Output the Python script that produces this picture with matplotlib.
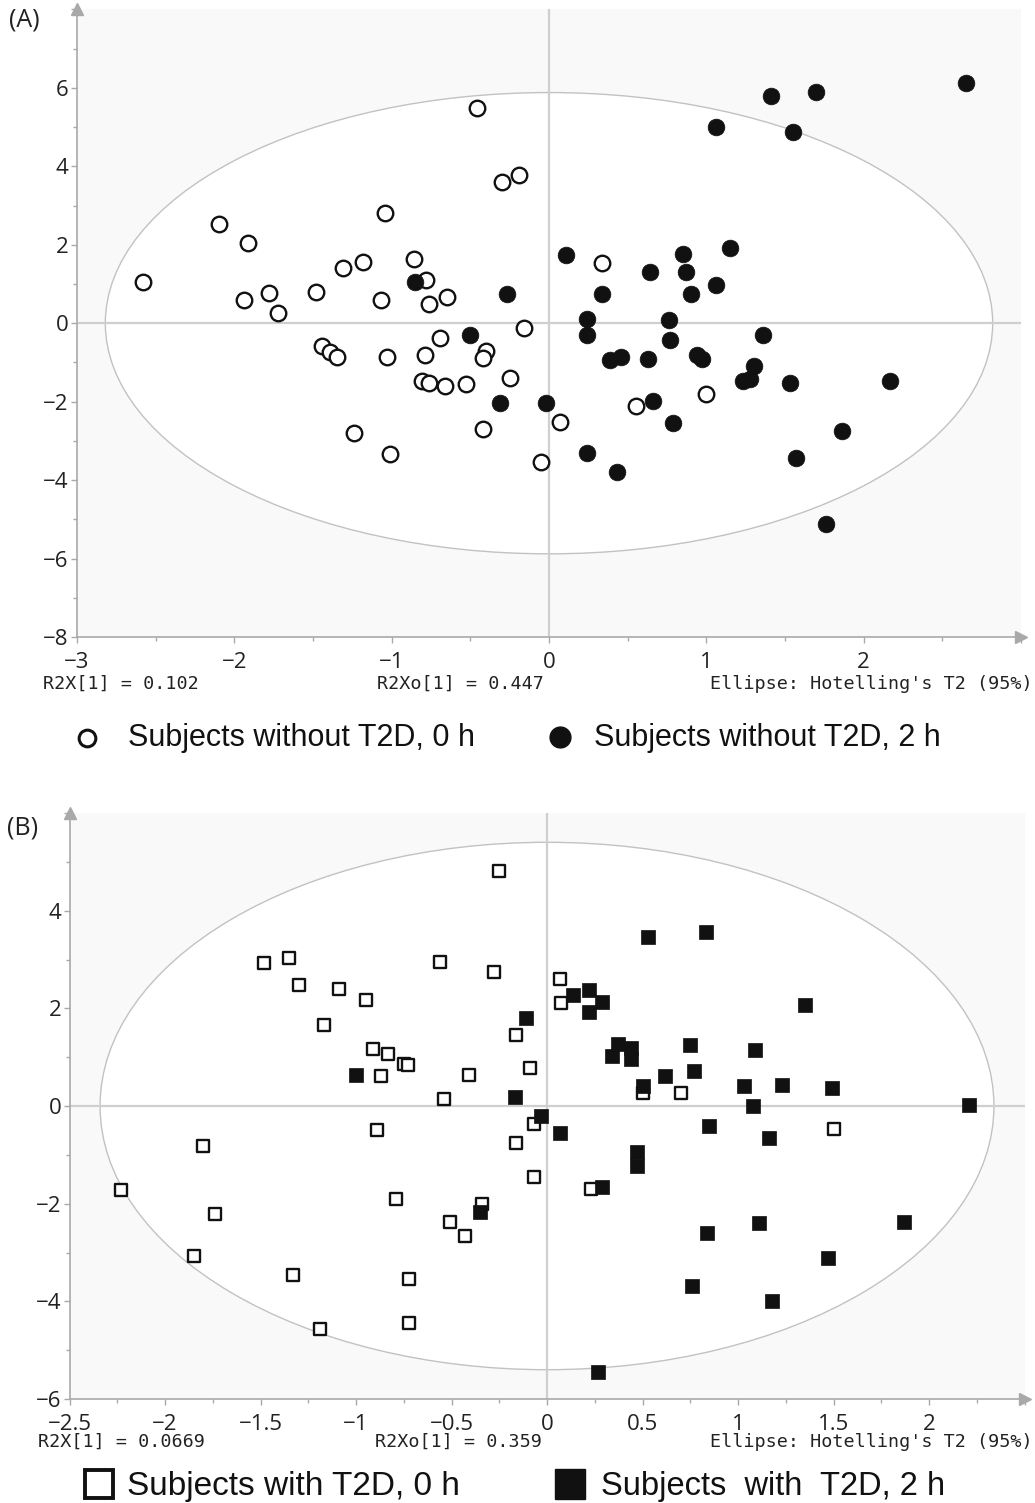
import matplotlib
matplotlib.use('Agg')
import matplotlib.pyplot as plt
from matplotlib.patches import Ellipse
from matplotlib.lines import Line2D
from matplotlib.ticker import MultipleLocator

# ---------------- Panel A data ----------------
a0_x = [-2.58, -2.10, -1.91, -1.94, -1.78, -1.72, -1.48, -1.31, -1.18, -1.07,
        -1.04, -0.86, -0.78, -0.76, -0.65, -0.46, -0.30, -0.19, 0.34, -0.16,
        -1.44, -1.39, -1.35, -1.03, -0.79, -0.69, -0.40, -0.42, -0.81, -0.76,
        -0.66, -0.53, -0.25, -1.24, -1.01, -0.42, -0.05, 0.07, 0.55, 1.00]
a0_y = [1.05, 2.53, 2.05, 0.60, 0.77, 0.26, 0.79, 1.41, 1.57, 0.60,
        2.81, 1.63, 1.11, 0.48, 0.66, 5.48, 3.61, 3.78, 1.53, -0.13,
        -0.59, -0.74, -0.87, -0.87, -0.82, -0.38, -0.71, -0.89, -1.48, -1.53,
        -1.61, -1.56, -1.40, -2.81, -3.34, -2.70, -3.55, -2.53, -2.12, -1.81]
a2_x = [-0.85, -0.27, -0.50, -0.31, -0.02, 0.11, 0.34, 0.24, 0.24, 0.64,
        0.85, 0.87, 0.90, 1.06, 1.15, 0.76, 0.77, 1.36, 1.06, 1.41,
        1.70, 1.55, 2.65, 0.39, 0.46, 0.63, 0.94, 0.97, 1.30, 1.23,
        1.28, 1.53, 2.17, 0.66, 0.79, 0.24, 0.43, 1.86, 1.57, 1.76]
a2_y = [1.05, 0.74, -0.31, -2.04, -2.04, 1.73, 0.74, 0.10, -0.31, 1.30,
        1.76, 1.30, 0.74, 0.97, 1.91, 0.08, -0.43, -0.29, 5.00, 5.79,
        5.89, 4.88, 6.12, -0.94, -0.86, -0.90, -0.82, -0.91, -1.10, -1.48,
        -1.43, -1.52, -1.48, -1.99, -2.55, -3.31, -3.80, -2.74, -3.44, -5.12]

# ---------------- Panel B data ----------------
b0_x = [-1.48, -1.35, -1.30, -1.09, -0.95, -1.17, -0.91, -0.83, -0.75, -0.73,
        -0.87, -0.56, -0.28, -0.25, -0.41, -0.54, -0.16, -0.09, -0.89, -1.80,
        -0.07, -0.16, -2.23, -1.74, -1.85, -1.33, -1.19, -0.79, -0.72, -0.72,
        -0.51, -0.43, -0.34, -0.07, 0.07, 0.075, 0.50, 0.70, 1.50, 0.23]
b0_y = [2.92, 3.04, 2.48, 2.40, 2.18, 1.65, 1.17, 1.06, 0.85, 0.83,
        0.62, 2.95, 2.74, 4.82, 0.64, 0.15, 1.46, 0.77, -0.50, -0.82,
        -0.37, -0.76, -1.72, -2.21, -3.08, -3.46, -4.57, -1.90, -3.54, -4.45,
        -2.38, -2.66, -2.00, -1.45, 2.60, 2.10, 0.26, 0.26, -0.48, -1.70]
b2_x = [-1.00, -0.11, -0.17, -0.03, 0.53, 0.83, 0.136, 0.22, 0.29, 0.22,
        1.35, 0.37, 0.34, 0.44, 0.44, 0.75, 1.09, 0.62, 0.77, 0.50,
        1.03, 1.23, 1.49, 1.08, 2.21, 0.07, 0.85, 1.16, 0.47, 0.47,
        0.29, -0.35, 0.84, 1.11, 1.87, 1.47, 0.76, 1.18, 0.265]
b2_y = [0.64, 1.80, 0.18, -0.20, 3.47, 3.57, 2.27, 2.38, 2.12, 1.92,
        2.06, 1.27, 1.02, 1.18, 0.97, 1.24, 1.15, 0.62, 0.71, 0.40,
        0.41, 0.43, 0.37, 0.01, 0.03, -0.55, -0.40, -0.65, -0.95, -1.22,
        -1.66, -2.17, -2.61, -2.40, -2.37, -3.12, -3.68, -4.00, -5.44]

W, H = 1035, 1503
fig = plt.figure(figsize=(W / 100, H / 100), dpi=100)
fig.patch.set_facecolor('white')

AXC = '#a9a9a9'
TICKFONT = 'Open Sans'
MONO = 'DejaVu Sans Mono'
LEGFONT = 'Liberation Sans'


def style(ax, xlim, ylim, xmaj, xmin, ymaj, ymin, ell):
    ax.set_facecolor('#f9f9f9')
    ax.set_xlim(*xlim)
    ax.set_ylim(*ylim)
    ax.add_patch(Ellipse((0, 0), 2 * ell[0], 2 * ell[1], facecolor='white',
                         edgecolor='#c2c2c2', lw=1.0, zorder=1))
    ax.axhline(0, color='#cfcfcf', lw=1.6, zorder=1.5)
    ax.axvline(0, color='#cfcfcf', lw=1.6, zorder=1.5)
    for s in ['top', 'right']:
        ax.spines[s].set_visible(False)
    for s in ['left', 'bottom']:
        ax.spines[s].set_color(AXC)
        ax.spines[s].set_linewidth(1.2)
    ax.xaxis.set_major_locator(MultipleLocator(xmaj))
    ax.xaxis.set_minor_locator(MultipleLocator(xmin))
    ax.yaxis.set_major_locator(MultipleLocator(ymaj))
    ax.yaxis.set_minor_locator(MultipleLocator(ymin))
    ax.tick_params(which='both', direction='out', color=AXC, width=1.0)
    ax.tick_params(which='major', length=4)
    ax.tick_params(which='minor', length=3)
    ax.tick_params(axis='x', which='major', pad=7, labelsize=16, labelcolor='#222222')
    ax.tick_params(axis='y', which='major', pad=2, labelsize=16, labelcolor='#222222')
    ax.plot([1], [0], marker='>', color=AXC, ms=9, transform=ax.transAxes,
            clip_on=False, zorder=5)
    ax.plot([0], [1], marker='^', color=AXC, ms=9, transform=ax.transAxes,
            clip_on=False, zorder=5)


def xfmt(ax, lo, hi, hide):
    ticks = [t for t in ax.get_xticks() if lo - 1e-9 <= t <= hi + 1e-9]
    labs = []
    for v in ticks:
        s = str(int(round(v))) if abs(v - round(v)) < 1e-9 else ('%g' % v)
        s = s.replace('-', '\u2212')
        if abs(v - hide) < 1e-9:
            s = ''
        labs.append(s)
    ax.set_xticks(ticks)
    ax.set_xticklabels(labs, fontfamily=TICKFONT, fontsize=16)
    ax.set_xlim(lo, hi)


def yfmt(ax, lo, hi, hide):
    ticks = [t for t in ax.get_yticks() if lo - 1e-9 <= t <= hi + 1e-9]
    labs = []
    for v in ticks:
        s = str(int(round(v))).replace('-', '\u2212')
        if abs(v - hide) < 1e-9:
            s = ''
        labs.append(s)
    ax.set_yticks(ticks)
    ax.set_yticklabels(labs, fontfamily=TICKFONT, fontsize=16)
    ax.set_ylim(lo, hi)


# ---------------- Panel A ----------------
axA = fig.add_axes([77 / W, 1 - 637 / H, (1021 - 77) / W, (637 - 9.4) / H])
style(axA, (-3, 3), (-8, 8), 1, 0.5, 2, 1, (2.82, 5.88))
axA.scatter(a0_x, a0_y, s=125, marker='o', facecolors='white', edgecolors='#111111',
            linewidths=1.7, zorder=3)
axA.scatter(a2_x, a2_y, s=145, marker='o', facecolors='#111111', edgecolors='#111111',
            linewidths=0.5, zorder=3)
xfmt(axA, -3, 3, 3)
yfmt(axA, -8, 8, 8)

# ---------------- Panel B ----------------
axB = fig.add_axes([69.5 / W, 1 - 1399 / H, 955 / W, 586 / H])
style(axB, (-2.5, 2.5), (-6, 6), 0.5, 0.25, 2, 1, (2.34, 5.40))
axB.scatter(b0_x, b0_y, s=78, marker='s', facecolors='white', edgecolors='#111111',
            linewidths=1.7, zorder=3)
axB.scatter(b2_x, b2_y, s=88, marker='s', facecolors='#111111', edgecolors='#111111',
            linewidths=0.5, zorder=3)
xfmt(axB, -2.5, 2.5, 2.5)
yfmt(axB, -6, 6, 6)


def fx(px):
    return px / W


def fy(py):
    return 1 - py / H


# ---------------- Annotation texts ----------------
mono_kw = dict(fontfamily=MONO, fontsize=13.2, color='#222222', va='center')
fig.text(fx(43), fy(684), 'R2X[1] = 0.102', ha='left', **mono_kw)
fig.text(fx(377), fy(684), 'R2Xo[1] = 0.447', ha='left', **mono_kw)
fig.text(fx(1033), fy(684), "Ellipse: Hotelling's T2 (95%)", ha='right', **mono_kw)
fig.text(fx(38), fy(1442), 'R2X[1] = 0.0669', ha='left', **mono_kw)
fig.text(fx(375), fy(1442), 'R2Xo[1] = 0.359', ha='left', **mono_kw)
fig.text(fx(1033), fy(1442), "Ellipse: Hotelling's T2 (95%)", ha='right', **mono_kw)

# panel labels
fig.text(fx(9), fy(20), '(A)', ha='left', va='center', fontfamily=TICKFONT,
         fontsize=18, color='#222222')
fig.text(fx(7), fy(828), '(B)', ha='left', va='center', fontfamily=TICKFONT,
         fontsize=18, color='#222222')

# ---------------- Legends ----------------
fig.add_artist(Line2D([fx(87)], [fy(738)], marker='o', ms=12, mfc='white', mec='#111111',
                      mew=2.2, transform=fig.transFigure))
fig.text(fx(128), fy(738), 'Subjects without T2D, 0 h', ha='left', va='center',
         fontfamily=LEGFONT, fontsize=22, color='#111111')
fig.add_artist(Line2D([fx(560)], [fy(737)], marker='o', ms=15, mfc='#111111', mec='#111111',
                      transform=fig.transFigure))
fig.text(fx(594), fy(738), 'Subjects without T2D, 2 h', ha='left', va='center',
         fontfamily=LEGFONT, fontsize=22, color='#111111')

fig.add_artist(Line2D([fx(99)], [fy(1484)], marker='s', ms=20, mfc='white', mec='#111111',
                      mew=2.8, transform=fig.transFigure))
fig.text(fx(127), fy(1487), 'Subjects with T2D, 0 h', ha='left', va='center',
         fontfamily=LEGFONT, fontsize=24, color='#111111')
fig.add_artist(Line2D([fx(570)], [fy(1484)], marker='s', ms=22, mfc='#111111', mec='#111111',
                      transform=fig.transFigure))
fig.text(fx(601), fy(1487), 'Subjects  with  T2D, 2 h', ha='left', va='center',
         fontfamily=LEGFONT, fontsize=23.5, color='#111111')

fig.savefig('out.png', dpi=100, facecolor='white')
